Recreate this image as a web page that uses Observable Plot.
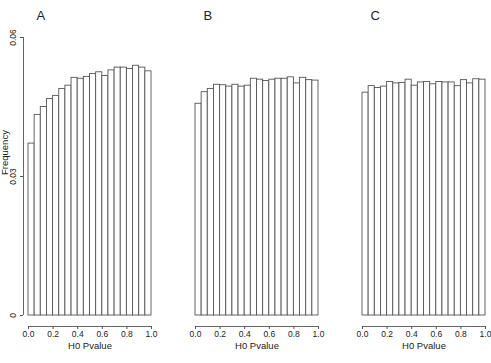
<!DOCTYPE html>
<html><head><meta charset="utf-8">
<script src="https://cdn.jsdelivr.net/npm/d3@7"></script>
<script src="https://cdn.jsdelivr.net/npm/@observablehq/plot@0.6"></script>
<style>body{margin:0;background:#fff;overflow:hidden}</style>
</head><body><div id="chart"></div>
<script>
const panels = ["A", "B", "C"];
const binStarts = [0, 0.05, 0.1, 0.15, 0.2, 0.25, 0.3, 0.35, 0.4, 0.45, 0.5, 0.55, 0.6, 0.65, 0.7, 0.75, 0.8, 0.85, 0.9, 0.95];
const binEnds = [0.05, 0.1, 0.15, 0.2, 0.25, 0.3, 0.35, 0.4, 0.45, 0.5, 0.55, 0.6, 0.65, 0.7, 0.75, 0.8, 0.85, 0.9, 0.95, 1];
const freqA = [0.0371, 0.0433, 0.0450, 0.0467, 0.0474, 0.0489, 0.0496, 0.0513, 0.0511, 0.0515, 0.0521, 0.0525, 0.0517, 0.0529, 0.0535, 0.0535, 0.0532, 0.0539, 0.0535, 0.0527];
const freqB = [0.0457, 0.0482, 0.0489, 0.0498, 0.0497, 0.0494, 0.0498, 0.0494, 0.0496, 0.0511, 0.0509, 0.0506, 0.0509, 0.0511, 0.0511, 0.0514, 0.0501, 0.0513, 0.0508, 0.0507];
const freqC = [0.0481, 0.0495, 0.0491, 0.0494, 0.0504, 0.0501, 0.0502, 0.0509, 0.0496, 0.0503, 0.0504, 0.0499, 0.0504, 0.0503, 0.0503, 0.0495, 0.0508, 0.0501, 0.0510, 0.0509];
const xTicks = [0, 0.2, 0.4, 0.6, 0.8, 1.0];
const yTicks = [0, 0.03, 0.06];
const xLabel = "H0 Pvalue";
const yLabel = "Frequency";

const series = {A: freqA, B: freqB, C: freqC};
const rows = panels.flatMap(p => binStarts.map((s, i) => ({panel: p, x1: s, x2: binEnds[i], freq: series[p][i]})));

const ink = "#222";
const lineCol = "#555";

const chart = Plot.plot({
  width: 491,
  height: 363,
  marginLeft: 22,
  marginRight: 6,
  marginTop: 37,
  marginBottom: 37,
  style: {fontFamily: "'Liberation Sans', Arial, Helvetica, sans-serif", color: ink, background: "#fff"},
  fx: {domain: panels, paddingInner: 0.2358, paddingOuter: 0, axis: null},
  x: {domain: [0, 1], insetLeft: 5, insetRight: 0},
  y: {domain: [0, 0.06], insetBottom: 11},
  marks: [
    Plot.rectY(rows, {x1: "x1", x2: "x2", y: "freq", fx: "panel", fill: "white", stroke: lineCol, strokeWidth: 0.9}),
    Plot.ruleY(panels, {fx: d => d, y: 0, x1: 0, x2: 1, dy: 11, stroke: lineCol, strokeWidth: 0.9}),
    Plot.ruleX(["A"], {fx: d => d, x: 0, y1: 0, y2: 0.06, dx: -5, stroke: lineCol, strokeWidth: 0.9}),
    Plot.axisX({ticks: xTicks, tickFormat: d3.format(".1f"), tickSize: 3, tickPadding: 1, label: null, fontSize: 8.5, stroke: lineCol}),
    Plot.axisY({ticks: yTicks, tickFormat: d => d === 0 ? "0" : d3.format(".2f")(d), tickSize: 3, tickPadding: 5, tickRotate: -90, label: null, fontSize: 8.5, stroke: lineCol}),
    Plot.text(panels, {fx: d => d, text: d => d, frameAnchor: "top-left", dx: 13, dy: -18, lineAnchor: "bottom", fontSize: 13, fill: ink}),
    Plot.text(panels, {fx: d => d, text: () => xLabel, frameAnchor: "bottom", dx: 2.5, dy: 19, lineAnchor: "middle", fontSize: 9.5, fill: ink}),
    Plot.text(["A"], {fx: d => d, text: () => yLabel, frameAnchor: "left", dx: -19, dy: -7, rotate: -90, fontSize: 9.5, fill: ink})
  ]
});
document.getElementById("chart").appendChild(chart);
</script>
</body></html>
